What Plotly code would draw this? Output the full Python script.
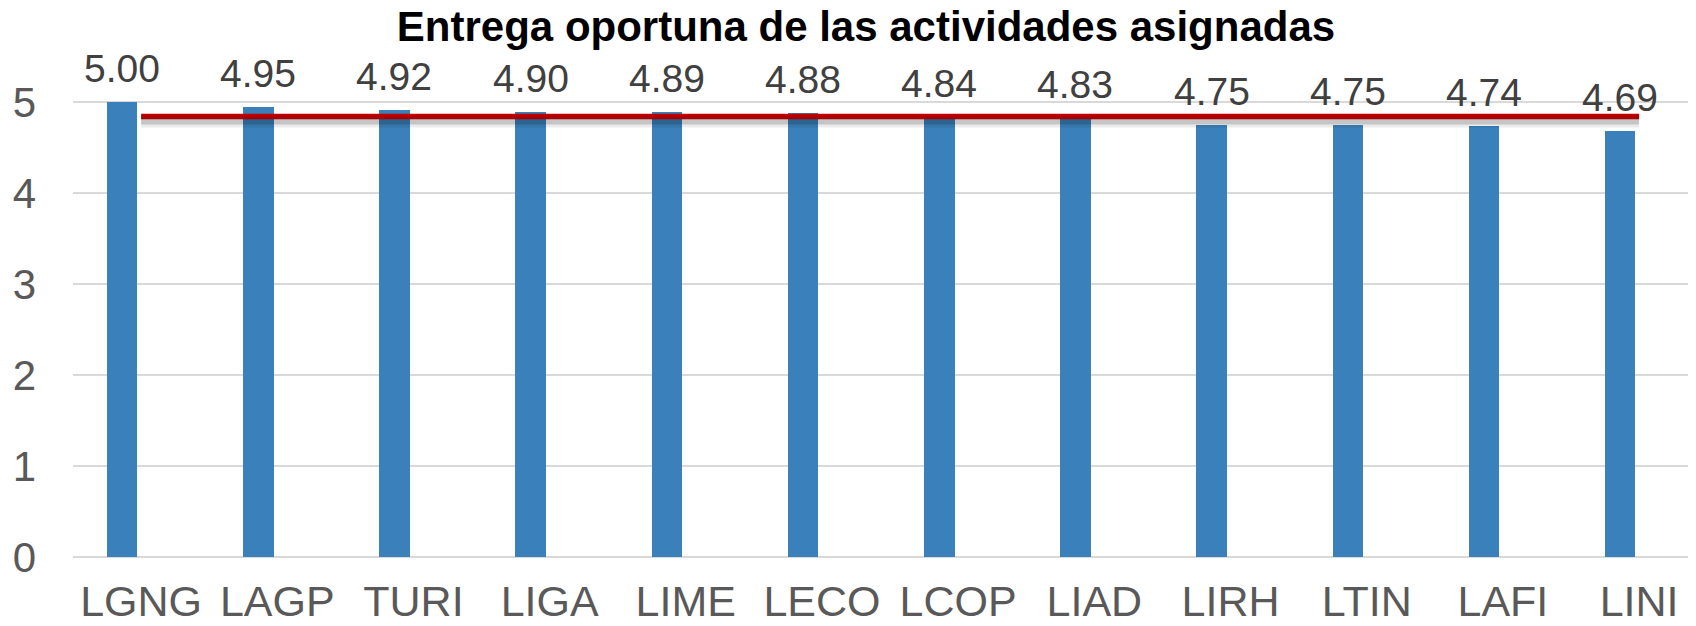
import plotly.graph_objects as go

categories = ["LGNG", "LAGP", "TURI", "LIGA", "LIME", "LECO", "LCOP", "LIAD", "LIRH", "LTIN", "LAFI", "LINI"]
values = [5.00, 4.95, 4.92, 4.90, 4.89, 4.88, 4.84, 4.83, 4.75, 4.75, 4.74, 4.69]
y_ticks = [0, 1, 2, 3, 4, 5]
title_text = "Entrega oportuna de las actividades asignadas"

average = sum(values) / len(values)
avg_series = [average] * len(categories)

BAR_COLOR = "#3A80BA"
LINE_COLOR = "#C00000"
TEXT_COLOR = "#595959"
GRID_COLOR = "#D9D9D9"
FONT = "Liberation Sans, Arial, sans-serif"

# the page body has an 8px margin, so the figure is drawn 8px smaller
PAGE_OFF = 8
W, H = 1696 - PAGE_OFF, 626 - PAGE_OFF
M_L, M_T = 73 - PAGE_OFF, 57 - PAGE_OFF
M_B = H - (557.3 - PAGE_OFF)

fig = go.Figure()

fig.add_trace(go.Bar(
    x=categories, y=values,
    marker=dict(color=BAR_COLOR, line=dict(width=0)),
    width=0.224, offset=-0.251,
    hoverinfo="x+y", showlegend=False,
))

# soft shadow for the average line (drawn on a hidden, slightly lowered axis)
fig.add_trace(go.Scatter(
    x=categories, y=avg_series, mode="lines", yaxis="y2",
    line=dict(color="rgba(0,0,0,0.08)", width=12),
    hoverinfo="skip", showlegend=False,
))
fig.add_trace(go.Scatter(
    x=categories, y=avg_series, mode="lines", yaxis="y2",
    line=dict(color="rgba(0,0,0,0.16)", width=6),
    hoverinfo="skip", showlegend=False,
))
fig.add_trace(go.Scatter(
    x=categories, y=avg_series, mode="lines",
    line=dict(color=LINE_COLOR, width=5.5),
    hoverinfo="y", showlegend=False,
))

for c, v in zip(categories, values):
    fig.add_annotation(
        x=c, y=v, text=f"{v:.2f}", showarrow=False,
        xanchor="center", yanchor="bottom", xshift=-19, yshift=10,
        font=dict(family=FONT, size=39, color="#404040"),
    )

plot_h = H - M_T - M_B
shift = 5 / plot_h

fig.update_layout(
    width=W, height=H,
    margin=dict(l=M_L, r=0, t=M_T, b=M_B, autoexpand=False),
    paper_bgcolor="white", plot_bgcolor="white",
    title=dict(
        text=f"<b>{title_text}</b>",
        x=(866 - PAGE_OFF) / W, xref="container", xanchor="center",
        y=1, yref="container", yanchor="top", pad=dict(t=4, b=0),
        font=dict(family=FONT, size=42, color="#000000"),
    ),
    xaxis=dict(
        type="category", range=[-0.5, 11.418],
        showgrid=False, showline=False, zeroline=False,
        ticks="", ticklabelstandoff=15,
        tickfont=dict(family=FONT, size=43, color=TEXT_COLOR),
    ),
    yaxis=dict(
        range=[0, 5.5], tickvals=y_ticks,
        showgrid=True, gridcolor=GRID_COLOR, gridwidth=1.5,
        zeroline=True, zerolinecolor=GRID_COLOR, zerolinewidth=2,
        showline=False, ticks="", ticklabelstandoff=36,
        tickfont=dict(family=FONT, size=42, color=TEXT_COLOR),
    ),
    yaxis2=dict(
        range=[5.5 * shift, 5.5 + 5.5 * shift],
        visible=False, overlaying="y", anchor="x",
    ),
    bargap=0,
)

fig.write_html("out.html")
